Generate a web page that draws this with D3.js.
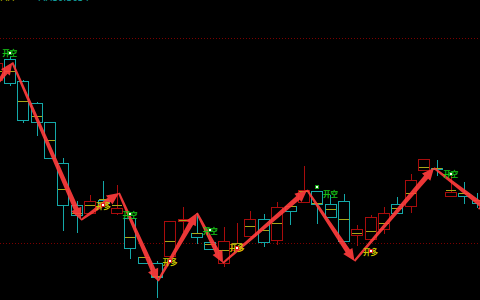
<!DOCTYPE html>
<html>
<head>
<meta charset="utf-8">
<script src="https://cdn.jsdelivr.net/npm/d3@7"></script>
<style>
  html, body { margin: 0; padding: 0; background: #000; overflow: hidden; }
  svg { display: block; }
</style>
</head>
<body>
<svg id="chart" width="480" height="300"></svg>
<script>
// candle data (price), one entry per bar
var candleOpen  = [3778, 3799, 3777, 3755, 3736, 3695, 3653, 3645, 3658, 3645, 3640, 3601, 3595, 3602, 3637, 3625, 3616, 3595, 3608, 3622, 3639, 3618, 3652, 3656, 3667, 3654, 3657, 3623, 3619, 3629, 3654, 3652, 3688, 3690, 3662, 3665, 3658];
var candleHigh  = [3798, 3802, 3778, 3756, 3736, 3700, 3657, 3663, 3677, 3673, 3641, 3601, 3597, 3637, 3651, 3645, 3616, 3631, 3635, 3647, 3644, 3656, 3652, 3692, 3667, 3663, 3664, 3633, 3643, 3651, 3661, 3684, 3699, 3698, 3683, 3676, 3665];
var candleLow   = [3774, 3772, 3735, 3722, 3699, 3627, 3625, 3645, 3653, 3643, 3599, 3595, 3560, 3602, 3626, 3614, 3609, 3591, 3608, 3622, 3611, 3613, 3633, 3656, 3634, 3641, 3617, 3612, 3619, 3624, 3645, 3645, 3688, 3682, 3662, 3654, 3650];
var candleClose = [3795, 3775, 3738, 3736, 3700, 3653, 3643, 3657, 3655, 3650, 3610, 3595, 3581, 3637, 3639, 3621, 3609, 3617, 3615, 3639, 3616, 3651, 3647, 3668, 3654, 3641, 3617, 3629, 3641, 3645, 3645, 3678, 3699, 3690, 3666, 3662, 3655];
var candleMid   = [3787, 3787, 3757, 3742, 3718, 3669, 3645, 3653, 3659, 3653, 3621, 3601, 3582, 3617, 3638, 3625, 3614, 3608, 3615, 3632, 3628, 3635, 3652, 3667, 3655, 3649, 3639, 3625, 3627, 3635, 3650, 3665, 3691, 3690, 3668, 3665, 3658];

// zigzag pivots (bar index, price)
var pivotIndex = [0, 1.19, 6.33, 9.17, 12.09, 15.01, 16.96, 23.25, 26.8, 32.75, 37];
var pivotPrice = [3773, 3795.5, 3638, 3665, 3577, 3645, 3595, 3668, 3597, 3690, 3646];

// trade signals
var sigIndex     = [1, 8, 10, 13, 16, 18, 24, 28, 34];
var sigTextIndex = [1, 8, 10, 13, 16, 18, 25, 28, 34];
var sigType      = ["开空", "开多", "开空", "开多", "开空", "开多", "开空", "开多", "开空"];
var sigPrice     = [3805.5, 3653, 3644, 3597, 3628, 3610.5, 3671, 3607, 3684.5];
var sigTextPrice = [3805.5, 3653, 3644, 3597, 3628, 3610.5, 3665, 3607, 3684.5];

var gridTicks = [3615, 3820];

var svg = d3.select("#chart"),
    width = +svg.attr("width"),
    height = +svg.attr("height");

svg.append("rect").attr("width", width).attr("height", height).attr("fill", "#000");

var x = d3.scaleBand()
    .domain(d3.range(candleOpen.length))
    .range([-9.36, 483.2])
    .paddingInner(0.13)
    .paddingOuter(0);

var y = d3.scaleLinear().domain([3558, 3858]).range([height, 0]);

var bw = x.bandwidth();
function xc(i) { return x(0) + bw / 2 + i * x.step(); }

var teal = "#14a8a8", red = "#a80c0c", yellow = "#a8a818";

// legend line above the visible area, only its bottom edge shows
svg.append("text").attr("x", 0).attr("y", 1).attr("fill", "#b0b000")
    .style("font", "9px 'DejaVu Sans'").text("MA");
svg.append("text").attr("x", 38).attr("y", 1).attr("fill", teal)
    .style("font", "9px 'DejaVu Sans'").text("MA10:3654");

// dotted grid lines
var grid = svg.append("g")
    .call(d3.axisRight(y).tickValues(gridTicks).tickSize(width).tickFormat(""));
grid.select(".domain").remove();
grid.selectAll(".tick line")
    .attr("stroke", "#7a0000")
    .attr("stroke-dasharray", "1,2");

var candles = d3.range(candleOpen.length).map(function (i) {
    return { i: i, o: candleOpen[i], h: candleHigh[i], l: candleLow[i], c: candleClose[i], m: candleMid[i] };
});

var g = svg.append("g").attr("shape-rendering", "crispEdges");

var bar = g.selectAll(".candle")
    .data(candles)
    .enter().append("g")
    .attr("class", "candle");

bar.append("line")
    .attr("x1", function (d) { return Math.round(x(d.i) + bw / 2) + 0.5; })
    .attr("x2", function (d) { return Math.round(x(d.i) + bw / 2) + 0.5; })
    .attr("y1", function (d) { return y(d.h); })
    .attr("y2", function (d) { return y(d.l); })
    .attr("stroke", function (d) { return d.c > d.o ? red : teal; });

bar.append("rect")
    .attr("x", function (d) { return Math.round(x(d.i)) + 0.5; })
    .attr("width", Math.round(bw) - 1)
    .attr("y", function (d) { return Math.round(y(Math.max(d.o, d.c))) + 0.5; })
    .attr("height", function (d) { return Math.max(1, Math.round(Math.abs(y(d.o) - y(d.c)))); })
    .attr("fill", "#000")
    .attr("stroke", function (d) { return d.c > d.o ? red : teal; });

bar.append("line")
    .attr("x1", function (d) { return Math.round(x(d.i)) + 1; })
    .attr("x2", function (d) { return Math.round(x(d.i)) + Math.round(bw) - 1; })
    .attr("y1", function (d) { return Math.round(y(d.m)) + 0.5; })
    .attr("y2", function (d) { return Math.round(y(d.m)) + 0.5; })
    .attr("stroke", yellow);

// zigzag arrows, tapered shaft with a head at the pivot
function arrowPath(x0, y0, x1, y1) {
    var dx = x1 - x0, dy = y1 - y0, len = Math.sqrt(dx * dx + dy * dy);
    var ux = dx / len, uy = dy / len, nx = -uy, ny = ux;
    var headLen = 12, headW = 5.5, w0 = 1, w1 = 2.6;
    var bx = x1 - ux * headLen, by = y1 - uy * headLen;
    var p = d3.path();
    p.moveTo(x0 + nx * w0, y0 + ny * w0);
    p.lineTo(bx + nx * w1, by + ny * w1);
    p.lineTo(bx + nx * headW, by + ny * headW);
    p.lineTo(x1, y1);
    p.lineTo(bx - nx * headW, by - ny * headW);
    p.lineTo(bx - nx * w1, by - ny * w1);
    p.lineTo(x0 - nx * w0, y0 - ny * w0);
    p.closePath();
    return p.toString();
}

var segs = d3.range(pivotIndex.length - 1).map(function (k) {
    return [xc(pivotIndex[k]), y(pivotPrice[k]), xc(pivotIndex[k + 1]), y(pivotPrice[k + 1])];
});

svg.append("g").selectAll("path")
    .data(segs)
    .enter().append("path")
    .attr("d", function (s) { return arrowPath(s[0], s[1], s[2], s[3]); })
    .attr("fill", "#ff3c3c")
    .attr("fill-opacity", 0.92);

// signals
var sigs = d3.range(sigIndex.length).map(function (k) {
    return { i: sigIndex[k], ti: sigTextIndex[k], t: sigType[k], p: sigPrice[k], tp: sigTextPrice[k] };
});

var sg = svg.append("g").selectAll("g")
    .data(sigs)
    .enter().append("g");

sg.append("text")
    .attr("x", function (d) { return xc(d.ti); })
    .attr("y", function (d) { return y(d.tp) + 3.5; })
    .attr("text-anchor", "middle")
    .attr("fill", function (d) { return d.t === "开空" ? "#18c018" : "#c8c800"; })
    .style("font", "bold 7.5px 'Noto Sans CJK SC'")
    .text(function (d) { return d.t; });

sg.append("rect")
    .attr("x", function (d) { return Math.round(xc(d.i)) - 2; })
    .attr("y", function (d) { return Math.round(y(d.p)) - 2; })
    .attr("width", 4)
    .attr("height", 4)
    .attr("fill", function (d) { return d.t === "开空" ? "#10a010" : "#e02020"; });

sg.append("rect")
    .attr("x", function (d) { return Math.round(xc(d.i)) - 1; })
    .attr("y", function (d) { return Math.round(y(d.p)) - 1; })
    .attr("width", 2)
    .attr("height", 2)
    .attr("fill", "#fff");
</script>
</body>
</html>
